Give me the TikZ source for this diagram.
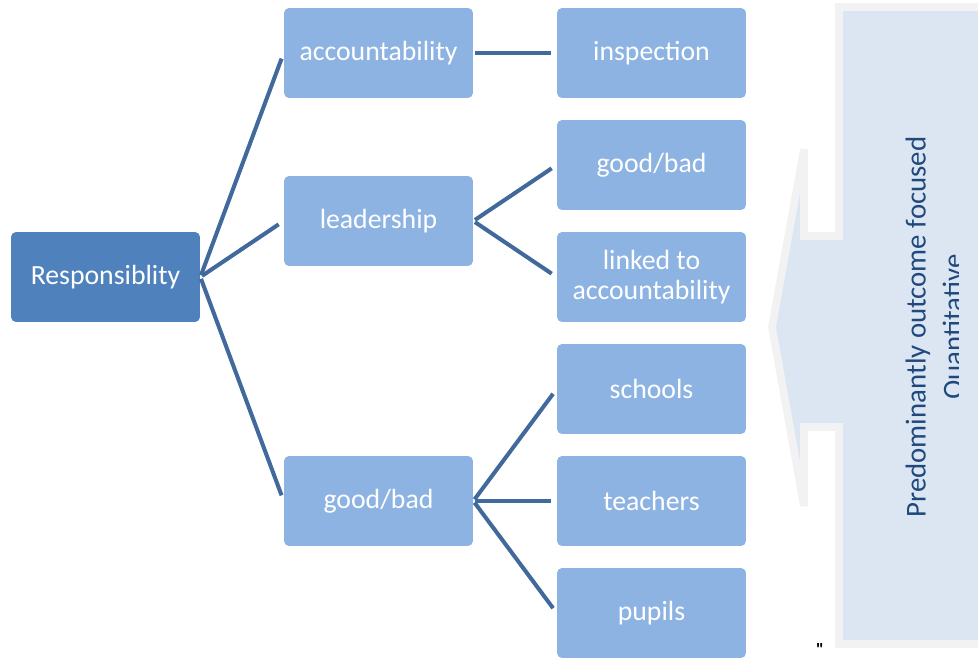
\documentclass[tikz,border=0pt]{standalone}
\usepackage{fontspec}
\setmainfont{Carlito}
\newfontfamily\plainquote{Carlito}

\definecolor{rootblue}{HTML}{4F81BD}
\definecolor{boxblue}{HTML}{8DB3E2}
\definecolor{linkblue}{HTML}{41699C}
\definecolor{calloutfill}{HTML}{DCE6F2}
\definecolor{calloutedge}{HTML}{F2F2F2}
\definecolor{callouttext}{HTML}{1F497D}

\begin{document}
\begin{tikzpicture}[x = .02cm, y = -.02cm,
  box/.style = {rectangle, rounded corners = .1cm, fill = boxblue, text = white, minimum width = 3.78cm, minimum height = 1.8cm, inner sep = 0pt, align = center, font = \fontsize{15.8}{17}\selectfont},
  rootbox/.style = {box, fill = rootblue},
  link/.style = {linkblue, line width = 2.3pt, shorten < = .04cm, shorten > = .12cm}]

\useasboundingbox (0, 0) rectangle (978, 658);
\clip (0, 0) rectangle (978, 658);

% callout on the right
\draw[calloutedge, fill = calloutfill, line width = 4.4pt, line join = miter] (1000, 7) -- (839, 7) -- (839, 236) -- (804, 236) -- (804, 149) -- (772, 327) -- (804, 506) -- (804, 427) -- (839, 427) -- (839, 644) -- (1000, 644);

\begin{scope}
\clip (843, 10) rectangle (958, 641);
\node[rotate = 90, align = center, text = callouttext, font = \fontsize{16.4}{21}\selectfont] (outcome) at (936, 327) {Predominantly outcome focused\\Quantitative};
\end{scope}

\node[inner sep = 0pt, anchor = north] (quote) at (820, 643) {\plainquote\bfseries\fontsize{10}{10}\selectfont "};

% tree
\node[rootbox] (resp) at (105.5, 277) {Responsiblity};

\node[box] (acc) at (378.5, 53) {accountability};
\node[box] (lead) at (378.5, 221) {leadership};
\node[box] (gb) at (378.5, 501) {good/bad};

\node[box] (insp) at (651.5, 53) {inspection};
\node[box] (leadgb) at (651.5, 165) {good/bad};
\node[box] (linked) at (651.5, 277) {linked to\\accountability};
\node[box] (schools) at (651.5, 389) {schools};
\node[box] (teachers) at (651.5, 501) {teachers};
\node[box] (pupils) at (651.5, 613) {pupils};

\draw[link] (resp.east) to (acc.west);
\draw[link] (resp.east) to (lead.west);
\draw[link] (resp.east) to (gb.west);

\draw[link] (acc.east) to (insp.west);

\draw[link] (lead.east) to (leadgb.west);
\draw[link] (lead.east) to (linked.west);

\draw[link] (gb.east) to (schools.west);
\draw[link] (gb.east) to (teachers.west);
\draw[link] (gb.east) to (pupils.west);

\end{tikzpicture}
\end{document}
